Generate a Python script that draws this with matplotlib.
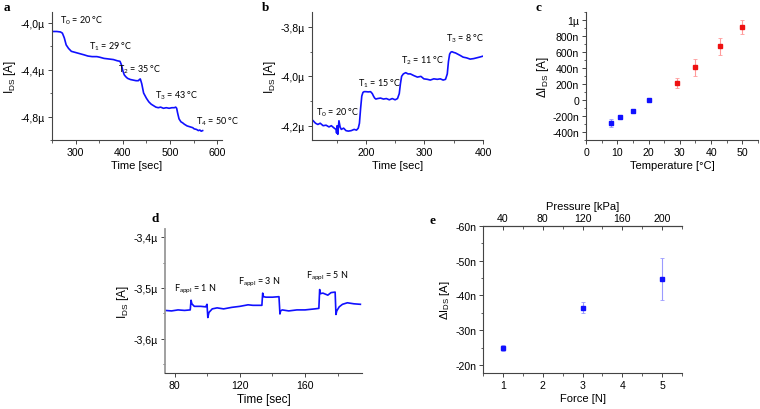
import numpy as np
import matplotlib.pyplot as plt
from matplotlib.ticker import MultipleLocator, FuncFormatter

plt.rcParams['font.family'] = ['Liberation Sans', 'DejaVu Sans']
plt.rcParams['mathtext.fontset'] = 'custom'
plt.rcParams['mathtext.rm'] = 'Liberation Sans'

BLUE = '#1010ff'

# panel a: cooling -> heating steps, I_DS in µA
t_a = [250, 260, 268, 272, 276, 280, 285, 291, 300, 309, 318, 326, 335, 345, 351, 360, 370,
       380, 388, 394, 397, 400, 403, 406, 410, 416, 422, 428, 433, 435, 437, 440, 444, 450,
       455, 460, 466, 470, 475, 480, 486, 492, 498, 504, 509, 512, 514, 516, 519, 523, 527,
       530, 536, 540, 544, 548, 551, 556, 560, 563, 566, 569]
i_a = [-4.076, -4.076, -4.08, -4.09, -4.13, -4.19, -4.22, -4.245, -4.255, -4.265, -4.275,
       -4.285, -4.29, -4.29, -4.295, -4.305, -4.31, -4.315, -4.325, -4.33, -4.36, -4.41,
       -4.445, -4.46, -4.475, -4.485, -4.49, -4.495, -4.495, -4.485, -4.48, -4.52, -4.6,
       -4.645, -4.675, -4.695, -4.71, -4.72, -4.725, -4.72, -4.73, -4.725, -4.73, -4.725,
       -4.725, -4.72, -4.73, -4.77, -4.82, -4.845, -4.855, -4.865, -4.88, -4.885, -4.89,
       -4.895, -4.905, -4.91, -4.92, -4.915, -4.925, -4.92]
labels_a = ['T$_\\mathregular{0}$ = 20 °C', 'T$_\\mathregular{1}$ = 29 °C',
            'T$_\\mathregular{2}$ = 35 °C', 'T$_\\mathregular{3}$ = 43 °C',
            'T$_\\mathregular{4}$ = 50 °C']
pos_a = [(267, -3.977), (329, -4.198), (389, -4.396), (469, -4.613), (555, -4.834)]

# panel b
t_b = [110, 114, 118, 122, 127, 132, 137, 141, 146, 149, 150, 151, 152, 153, 154, 156, 158,
       162, 166, 170, 175, 180, 184, 187, 189, 191, 193, 195, 197, 200, 204, 208, 211, 213,
       215, 217, 220, 225, 230, 235, 240, 245, 250, 254, 257, 259, 261, 264, 268, 272, 276,
       282, 288, 294, 299, 305, 310, 316, 322, 327, 332, 336, 339, 341, 343, 345, 347, 350,
       353, 357, 361, 366, 372, 378, 384, 389, 394, 400]
i_b = [-4.18, -4.19, -4.195, -4.19, -4.2, -4.198, -4.205, -4.2, -4.21, -4.215, -4.23, -4.2,
       -4.235, -4.21, -4.18, -4.205, -4.215, -4.21, -4.22, -4.222, -4.22, -4.215, -4.218,
       -4.21, -4.19, -4.13, -4.08, -4.065, -4.062, -4.062, -4.063, -4.062, -4.07, -4.08,
       -4.088, -4.092, -4.09, -4.088, -4.092, -4.09, -4.095, -4.09, -4.095, -4.09, -4.07,
       -4.03, -4.0, -3.99, -3.985, -3.99, -3.99, -3.997, -4.003, -4.0, -4.01, -4.012,
       -4.015, -4.01, -4.012, -4.01, -4.015, -4.012, -3.99, -3.94, -3.91, -3.902, -3.9,
       -3.903, -3.905, -3.91, -3.915, -3.922, -3.925, -3.93, -3.928, -3.925, -3.922, -3.918]
labels_b = ['T$_\\mathregular{0}$ = 20 °C', 'T$_\\mathregular{1}$ = 15 °C',
            'T$_\\mathregular{2}$ = 11 °C', 'T$_\\mathregular{3}$ = 8 °C']
pos_b = [(115, -4.143), (187, -4.024), (260, -3.933), (337, -3.845)]

# panel c: delta I vs temperature, nA
temp_cold = [8, 11, 15, 20]
di_cold = [-285, -213, -140, 0]
err_cold = [50, 25, 15, 8]
temp_hot = [29, 35, 43, 50]
di_hot = [211, 409, 671, 911]
err_hot = [63, 105, 108, 92]

# panel d: force steps
t_d = [74, 78, 82, 86, 89.5, 90, 90.5, 92, 96, 99, 99.8, 100.3, 101, 103, 106, 110, 115, 120,
       125, 128, 133.5, 134, 134.5, 136, 140, 144, 144.6, 145, 146, 150, 155, 160, 166,
       168.5, 169, 169.5, 171, 174, 176, 178.5, 179, 179.5, 181, 183, 186, 190, 194]
i_d = [-3.544, -3.545, -3.543, -3.544, -3.543, -3.524, -3.531, -3.536, -3.536, -3.537,
       -3.532, -3.558, -3.548, -3.541, -3.539, -3.541, -3.538, -3.536, -3.533, -3.534,
       -3.534, -3.51, -3.517, -3.518, -3.518, -3.517, -3.551, -3.545, -3.543, -3.545,
       -3.543, -3.543, -3.541, -3.54, -3.503, -3.511, -3.51, -3.514, -3.509, -3.508,
       -3.552, -3.545, -3.537, -3.532, -3.529, -3.531, -3.532]
labels_d = ['F$_\\mathregular{appl}$ = 1 N', 'F$_\\mathregular{appl}$ = 3 N',
            'F$_\\mathregular{appl}$ = 5 N']
pos_d = [(79.5, -3.50), (118.6, -3.488), (160.8, -3.476)]

# panel e: delta I vs force, nA
force = [1, 3, 5]
di_force = [-24.8, -36.5, -44.8]
err_force = [0.8, 1.6, 6.0]
pressure_ticks = [40, 80, 120, 160, 200]
kpa_per_n = 40

TICK = 7.6
LAB = 8


def style(ax, top=False):
    for s in ['right'] + ([] if top else ['top']):
        ax.spines[s].set_visible(False)
    for s in ax.spines.values():
        s.set_color('#444444')
        s.set_linewidth(0.8)
    ax.tick_params(which='both', direction='out', labelsize=TICK, color='#444444', pad=2)
    ax.tick_params(which='major', length=3, width=0.7)
    ax.tick_params(which='minor', length=1.8, width=0.6)


def micro(v, pos):
    return ('%.1f' % v).replace('.', ',') + 'µ'


def nano(v, pos):
    if abs(v - 1000) < 1e-6:
        return '1µ'
    if abs(v) < 1e-6:
        return '0'
    return '%dn' % round(v)


fig = plt.figure(figsize=(7.6, 4.1), dpi=100)
ann = dict(family=['Lato', 'DejaVu Sans'], fontsize=6.5, va='center', ha='left')
letter = dict(family='Liberation Serif', fontweight='bold', fontsize=9.5)

# a
ax = fig.add_axes([52 / 760, 1 - 141 / 410, 170 / 760, 128 / 410])
style(ax)
ax.plot(t_a, i_a, color=BLUE, lw=1.2)
ax.set_xlim(250, 610)
ax.set_ylim(-5.0, -3.91)
ax.xaxis.set_major_locator(MultipleLocator(100))
ax.xaxis.set_minor_locator(MultipleLocator(50))
ax.yaxis.set_major_locator(MultipleLocator(0.4))
ax.yaxis.set_minor_locator(MultipleLocator(0.2))
ax.yaxis.set_major_formatter(FuncFormatter(micro))
ax.set_xlabel('Time [sec]', fontsize=LAB, labelpad=2)
ax.set_ylabel('I$_\\mathregular{DS}$ [A]', fontsize=LAB + 0.5, labelpad=2)
for s, (x, y) in zip(labels_a, pos_a):
    ax.text(x, y, s, **ann)
fig.text(4 / 760, 1 - 8 / 410, 'a', va='center', **letter)

# b
ax = fig.add_axes([312 / 760, 1 - 141 / 410, 171 / 760, 128 / 410])
style(ax)
ax.plot(t_b, i_b, color=BLUE, lw=1.2)
ax.set_xlim(108, 400)
ax.set_ylim(-4.258, -3.739)
ax.xaxis.set_major_locator(MultipleLocator(100))
ax.xaxis.set_minor_locator(MultipleLocator(50))
ax.yaxis.set_major_locator(MultipleLocator(0.2))
ax.yaxis.set_minor_locator(MultipleLocator(0.1))
ax.yaxis.set_major_formatter(FuncFormatter(micro))
ax.set_xlabel('Time [sec]', fontsize=LAB, labelpad=2)
ax.set_ylabel('I$_\\mathregular{DS}$ [A]', fontsize=LAB + 0.5, labelpad=2)
for s, (x, y) in zip(labels_b, pos_b):
    ax.text(x, y, s, **ann)
fig.text(262 / 760, 1 - 8 / 410, 'b', va='center', **letter)

# c
ax = fig.add_axes([586 / 760, 1 - 141 / 410, 172 / 760, 128 / 410])
style(ax)
ax.errorbar(temp_cold, di_cold, yerr=err_cold, fmt='s', ms=2.8, color='#1010ff',
            ecolor='#9a9aff', elinewidth=0.8, capsize=1.5, capthick=0.6)
ax.errorbar(temp_hot, di_hot, yerr=err_hot, fmt='s', ms=2.8, color='#ee1111',
            ecolor='#ff9a9a', elinewidth=0.8, capsize=1.5, capthick=0.6)
ax.set_xlim(0, 55)
ax.set_ylim(-500, 1100)
ax.xaxis.set_major_locator(MultipleLocator(10))
ax.xaxis.set_minor_locator(MultipleLocator(5))
ax.yaxis.set_major_locator(MultipleLocator(200))
ax.yaxis.set_minor_locator(MultipleLocator(100))
ax.yaxis.set_major_formatter(FuncFormatter(nano))
ax.set_xlabel('Temperature [°C]', fontsize=LAB, labelpad=2)
ax.set_ylabel('ΔI$_\\mathregular{DS}$ [A]', fontsize=LAB + 0.5, labelpad=1)
fig.text(536 / 760, 1 - 8 / 410, 'c', va='center', **letter)

# d
ax = fig.add_axes([165 / 760, 1 - 374 / 410, 197 / 760, 144 / 410])
style(ax)
ax.spines['left'].set_color('#999999')
ax.spines['left'].set_linewidth(1.3)
ax.plot(t_d, i_d, color=BLUE, lw=1.2)
ax.set_xlim(74, 195)
ax.set_ylim(-3.667, -3.384)
ax.xaxis.set_major_locator(MultipleLocator(40))
ax.xaxis.set_minor_locator(MultipleLocator(20))
ax.yaxis.set_major_locator(MultipleLocator(0.1))
ax.yaxis.set_minor_locator(MultipleLocator(0.05))
ax.yaxis.set_major_formatter(FuncFormatter(micro))
ax.set_xlabel('Time [sec]', fontsize=LAB + 0.5, labelpad=2)
ax.set_ylabel('I$_\\mathregular{DS}$ [A]', fontsize=LAB + 0.5, labelpad=2)
for s, (x, y) in zip(labels_d, pos_d):
    ax.text(x, y, s, **ann)
fig.text(152 / 760, 1 - 219 / 410, 'd', va='center', **letter)

# e
ax = fig.add_axes([483 / 760, 1 - 374.3 / 410, 199 / 760, 147.6 / 410])
style(ax, top=True)
ax.errorbar(force, di_force, yerr=err_force, fmt='s', ms=2.8, color='#1010ff',
            ecolor='#9a9aff', elinewidth=0.8, capsize=1.5, capthick=0.6)
ax.set_xlim(0.5, 5.5)
ax.set_ylim(-17.6, -60)
ax.xaxis.set_major_locator(MultipleLocator(1))
ax.xaxis.set_minor_locator(MultipleLocator(0.5))
ax.yaxis.set_major_locator(MultipleLocator(10))
ax.yaxis.set_minor_locator(MultipleLocator(5))
ax.yaxis.set_major_formatter(FuncFormatter(nano))
ax.set_xlabel('Force [N]', fontsize=LAB, labelpad=2)
ax.set_ylabel('ΔI$_\\mathregular{DS}$ [A]', fontsize=LAB, labelpad=2)
sec = ax.secondary_xaxis('top', functions=(lambda f: f * kpa_per_n, lambda p: p / kpa_per_n))
sec.set_xticks(pressure_ticks)
sec.xaxis.set_minor_locator(MultipleLocator(20))
sec.spines['top'].set_color('#444444')
sec.tick_params(which='both', direction='in', labelsize=TICK, color='#444444', pad=2)
sec.tick_params(which='major', length=3, width=0.7)
sec.tick_params(which='minor', length=1.8, width=0.6)
sec.set_xlabel('Pressure [kPa]', fontsize=LAB, labelpad=3)
fig.text(430 / 760, 1 - 221 / 410, 'e', va='center', **letter)

fig.savefig('out.png', dpi=100)
